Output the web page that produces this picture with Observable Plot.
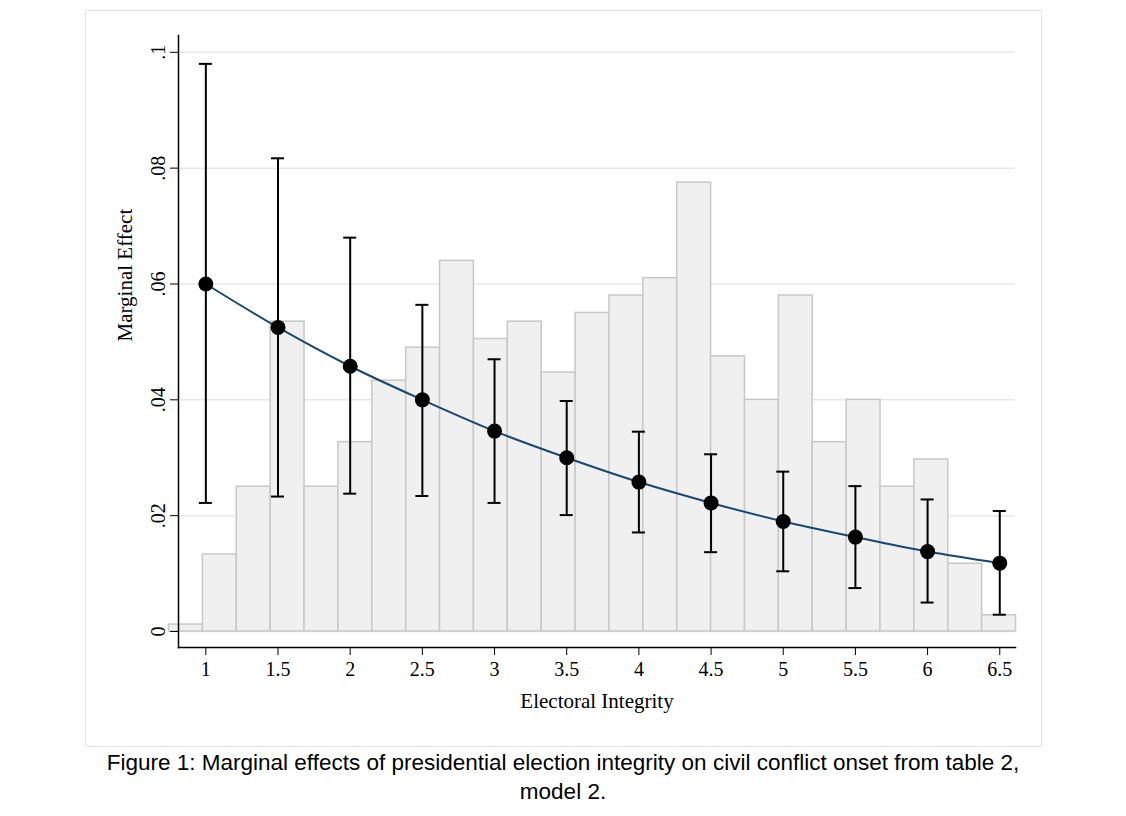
<!DOCTYPE html>
<html><head><meta charset="utf-8">
<script src="https://cdn.jsdelivr.net/npm/d3@7"></script>
<script src="https://cdn.jsdelivr.net/npm/@observablehq/plot@0.6"></script>
<style>
body{margin:0;background:#fff;position:relative;width:1126px;height:816px;overflow:hidden}
#box{position:absolute;left:85px;top:10px;width:955px;height:735px;border:1px solid #e4e4e4}
#chart{position:absolute;left:0;top:0}
#cap{position:absolute;left:0;top:748px;width:1126px;text-align:center;font-family:"Liberation Sans",Arial,sans-serif;font-size:22.5px;line-height:29px;color:#000}
</style></head>
<body>
<div id="box"></div>
<div id="chart"></div>
<div id="cap">Figure 1: Marginal effects of presidential election integrity on civil conflict onset from table 2,<br>model 2.</div>
<script>
// histogram (density of electoral integrity), 25 regular bins
const binStart = 0.745, binWidth = 0.2347
const binHeights = [0.0012,0.0133,0.025,0.0535,0.025,0.0327,0.0433,0.049,0.064,0.0505,0.0535,0.0447,0.055,0.058,0.061,0.0775,0.0475,0.040,0.058,0.0327,0.040,0.025,0.0297,0.0117,0.0028]

// marginal effects with 95% CI
const integrity = [1,1.5,2,2.5,3,3.5,4,4.5,5,5.5,6,6.5]
const effect = [0.060,0.0525,0.0458,0.040,0.0346,0.030,0.0258,0.0222,0.019,0.0163,0.0138,0.0118]
const lower = [0.0222,0.0233,0.0238,0.0234,0.0222,0.0201,0.0171,0.0137,0.0104,0.0075,0.0050,0.0029]
const upper = [0.098,0.0817,0.068,0.0564,0.047,0.0398,0.0345,0.0306,0.0276,0.0251,0.0228,0.0208]

const xTicks = integrity
const yTicks = [0,0.02,0.04,0.06,0.08,0.1]
const yLabels = ["0",".02",".04",".06",".08",".1"]
const capHalf = 0.045

const bins = binHeights.map((h,i)=>({x1:binStart+i*binWidth, x2:binStart+(i+1)*binWidth, h}))
const pts = integrity.map((x,i)=>({x, y:effect[i], lo:lower[i], hi:upper[i]}))

const serif = "Liberation Serif, Times New Roman, serif"
const chart = Plot.plot({
  width:1126, height:745,
  marginLeft:178, marginRight:111, marginTop:35, marginBottom:98,
  style:{fontFamily:serif, fontSize:"20px", color:"#000", background:"transparent"},
  x:{domain:[0.8106,6.609]},
  y:{domain:[-0.00276,0.1029]},
  marks:[
    Plot.ruleY(yTicks,{stroke:"#e8e8e8", strokeWidth:1.5}),
    Plot.rectY(bins,{x1:"x1", x2:"x2", y1:0, y2:"h", fill:"#f0f0f0", stroke:"#c8c8c8", strokeWidth:1.5}),
    Plot.line(pts,{x:"x", y:"y", stroke:"#1a476f", strokeWidth:2, curve:"catmull-rom"}),
    Plot.ruleX(pts,{x:"x", y1:"lo", y2:"hi", stroke:"#000", strokeWidth:2}),
    Plot.ruleY(pts,{y:"lo", x1:d=>d.x-capHalf, x2:d=>d.x+capHalf, stroke:"#000", strokeWidth:2}),
    Plot.ruleY(pts,{y:"hi", x1:d=>d.x-capHalf, x2:d=>d.x+capHalf, stroke:"#000", strokeWidth:2}),
    Plot.dot(pts,{x:"x", y:"y", r:7.5, fill:"#000"}),
    Plot.frame({anchor:"left", stroke:"#000", strokeWidth:1.5}),
    Plot.frame({anchor:"bottom", stroke:"#000", strokeWidth:1.5}),
    Plot.axisX(xTicks,{tickFormat:d=>String(d), tickSize:8, tickPadding:6, label:null}),
    Plot.axisY(yTicks,{tickFormat:d=>yLabels[yTicks.indexOf(d)], tickSize:8, tickPadding:6, tickRotate:-90, label:null}),
    Plot.text(["Electoral Integrity"],{frameAnchor:"bottom", dy:60, fontSize:21, fontFamily:serif}),
    Plot.text(["Marginal Effect"],{frameAnchor:"left", dx:-53, rotate:-90, fontSize:21, fontFamily:serif})
  ]
})
d3.select("#chart").append(()=>chart)
</script>
</body></html>
